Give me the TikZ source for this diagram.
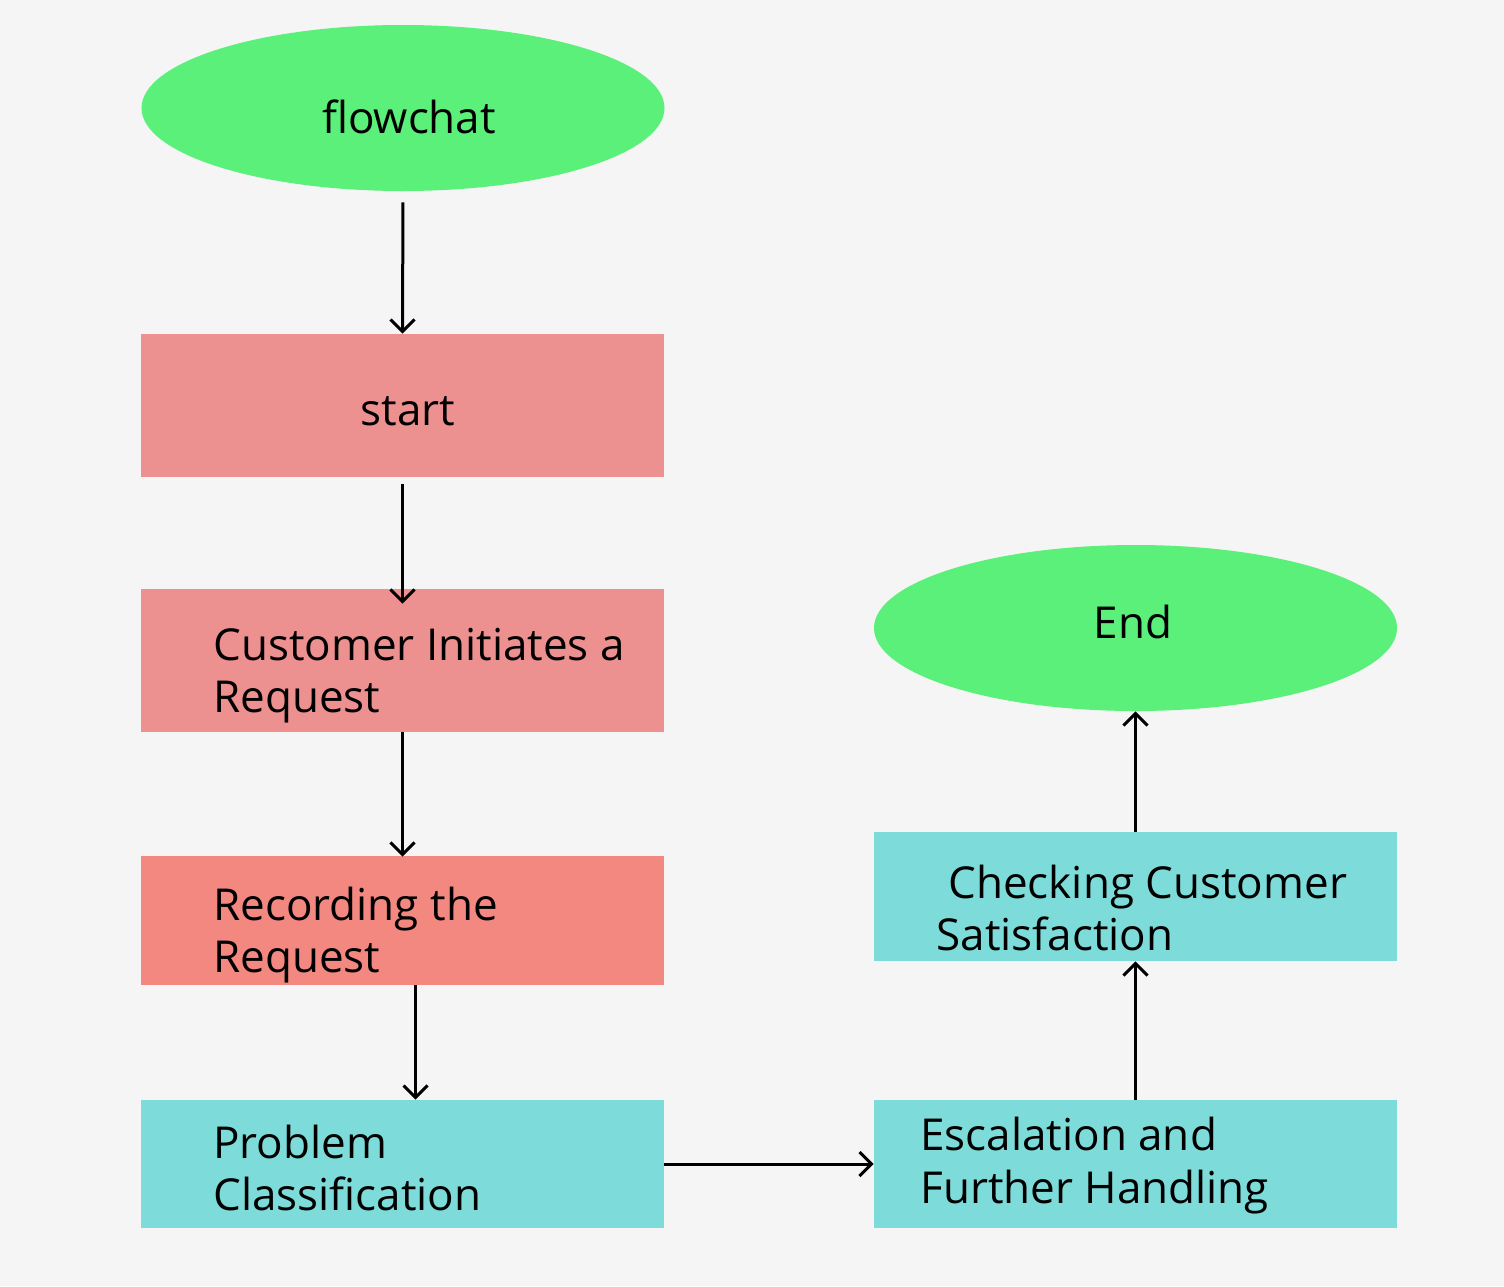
\documentclass[tikz,border=0pt]{standalone}
\usepackage{fontspec}
\setmainfont{Open Sans}
\usetikzlibrary{shapes.geometric,arrows.meta}
\definecolor{bg}{HTML}{F5F5F5}
\definecolor{grn}{HTML}{5AF07A}
\definecolor{pnk}{HTML}{EC9190}
\definecolor{slm}{HTML}{F28880}
\definecolor{cyn}{HTML}{7DDCDA}
\tikzset{
  oval/.style={ellipse, fill=grn, minimum width=261.5pt, minimum height=83pt, inner sep=0pt},
  box/.style={rectangle, minimum width=261.5pt, inner sep=0pt},
  lbl/.style={anchor=base west, inner sep=0pt, font=\fontsize{22}{26}\selectfont},
  clbl/.style={anchor=base, inner sep=0pt, font=\fontsize{22}{26}\selectfont},
  conn/.style={line width=1.5pt, -{Straight Barb[length=6pt,width=12pt,line width=1.5pt]}}
}
\begin{document}
\begin{tikzpicture}[x=0.5pt,y=-0.5pt]
\fill[bg] (0,0) rectangle (1504,1286);
\useasboundingbox (0,0) rectangle (1504,1286);
% shapes
\node[oval] (flow) at (403,108) {};
\node[box, fill=pnk, minimum height=71.5pt] (start) at (402.5,405.5) {};
\node[box, fill=pnk, minimum height=71.5pt] (cust) at (402.5,660.5) {};
\node[box, fill=slm, minimum height=64.5pt] (rec) at (402.5,920.5) {};
\node[box, fill=cyn, minimum height=64pt] (prob) at (402.5,1164) {};
\node[box, fill=cyn, minimum height=64pt] (esc) at (1135.5,1164) {};
\node[box, fill=cyn, minimum height=64.5pt] (chk) at (1135.5,896.5) {};
\node[oval] (endn) at (1135.5,628) {};
% texts
\node[clbl] (tflow) at (409,133) {flowchat};
\node[clbl] (tstart) at (408,425) {start};
\node[lbl] (tcust1) at (213,660) {Customer Initiates a};
\node[lbl] (tcust2) at (213,712) {Request};
\node[lbl] (trec1) at (213,920) {Recording the};
\node[lbl] (trec2) at (213,972) {Request};
\node[lbl] (tprob1) at (213,1158) {Problem};
\node[lbl] (tprob2) at (213,1210) {Classification};
\node[lbl] (tesc1) at (920,1150) {Escalation and};
\node[lbl] (tesc2) at (920,1203) {Further Handling};
\node[lbl] (tchk1) at (948,898) {Checking Customer};
\node[lbl] (tchk2) at (936,950) {Satisfaction};
\node[clbl] (tend) at (1133,638) {End};
% connectors
\draw[conn, shorten <=5.5pt] (flow.south) -- (start.north);
\draw[conn, shorten <=3.5pt, shorten >=-7.5pt] (start.south) -- (cust.north);
\draw[conn, shorten >=-0.5pt] (cust.south) -- (rec.north);
\draw[conn] ([xshift=6.5pt]rec.south) -- ([xshift=6.5pt]prob.north);
\draw[conn] (prob.east) -- (esc.west);
\draw[conn] (esc.north) -- (chk.south);
\draw[conn] (chk.north) -- (endn.south);
\end{tikzpicture}
\end{document}
